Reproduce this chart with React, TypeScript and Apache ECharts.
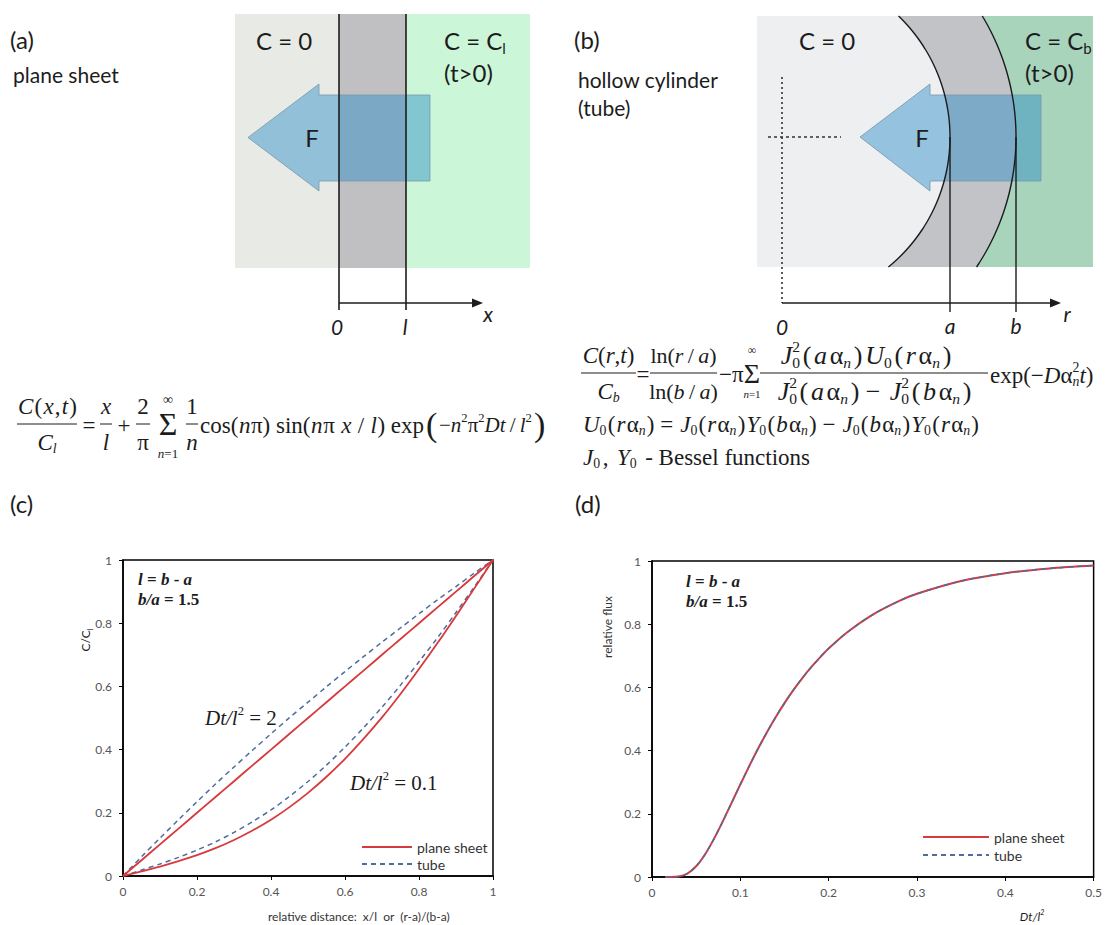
import React, { useEffect, useRef } from 'react';
import * as echarts from 'echarts';

// ---------------- data ----------------
const distance = [0, 0.05, 0.1, 0.15, 0.2, 0.25, 0.3, 0.35, 0.4, 0.45, 0.5, 0.55, 0.6, 0.65, 0.7, 0.75, 0.8, 0.85, 0.9, 0.95, 1];
const planeDt2 = [0, 0.05, 0.1, 0.15, 0.2, 0.25, 0.3, 0.35, 0.4, 0.45, 0.5, 0.55, 0.6, 0.65, 0.7, 0.75, 0.8, 0.85, 0.9, 0.95, 1];
const tubeDt2 = [0, 0.061, 0.12, 0.178, 0.235, 0.291, 0.345, 0.398, 0.45, 0.501, 0.55, 0.599, 0.647, 0.694, 0.74, 0.785, 0.83, 0.874, 0.916, 0.959, 1];
const planeDt01 = [0, 0.015, 0.03, 0.047, 0.066, 0.088, 0.114, 0.144, 0.178, 0.218, 0.263, 0.314, 0.371, 0.434, 0.502, 0.576, 0.655, 0.737, 0.823, 0.911, 1];
const tubeDt01 = [0, 0.019, 0.038, 0.059, 0.082, 0.108, 0.138, 0.172, 0.209, 0.252, 0.299, 0.351, 0.408, 0.469, 0.534, 0.604, 0.678, 0.754, 0.834, 0.916, 1];

const dimensionlessTime = [0.015, 0.02, 0.03, 0.04, 0.05, 0.06, 0.07, 0.08, 0.09, 0.1, 0.11, 0.12, 0.13, 0.14, 0.15, 0.16, 0.17, 0.18, 0.19, 0.2, 0.22, 0.25, 0.28, 0.3, 0.35, 0.4, 0.45, 0.5];
const fluxPlane = [0, 0.0001, 0.0016, 0.0109, 0.034, 0.0714, 0.1199, 0.1753, 0.2339, 0.2929, 0.3505, 0.4056, 0.4574, 0.5057, 0.5502, 0.5913, 0.6289, 0.6632, 0.6944, 0.7229, 0.7723, 0.8305, 0.8739, 0.8965, 0.9368, 0.9614, 0.9764, 0.9856];
const fluxTube = [0, 0.0001, 0.0016, 0.0109, 0.034, 0.0714, 0.1199, 0.1753, 0.2339, 0.2929, 0.3505, 0.4056, 0.4574, 0.5057, 0.5502, 0.5913, 0.6289, 0.6632, 0.6944, 0.7229, 0.7723, 0.8305, 0.8739, 0.8965, 0.9368, 0.9614, 0.9764, 0.9856];

const legendNames = ['plane sheet', 'tube'];

// ---------------- styles ----------------
const SERIF = '"Liberation Serif","Times New Roman",serif';
const SANS = 'Lato,"Open Sans",sans-serif';
const INK = '#1c1c1c';
const RED = '#d8393c';
const BLUE = '#4f6d9c';

type TOpts = {
  size?: number; family?: string; align?: string; valign?: string; italic?: boolean; bold?: boolean;
  color?: string; rotation?: number; rich?: any;
};
function txt(x: number, y: number, text: string, o: TOpts = {}) {
  const align = o.align || 'left';
  const valign = o.valign || 'middle';
  return {
    type: 'text', x, y, rotation: o.rotation || 0, z: 20,
    style: {
      text, fontSize: o.size || 22, fontFamily: o.family || SANS,
      fontStyle: o.italic ? 'italic' : 'normal', fontWeight: o.bold ? 'bold' : 'normal',
      fill: o.color || INK, align, verticalAlign: valign, textAlign: align, textVerticalAlign: valign,
      rich: o.rich,
    },
  };
}
function seg(x1: number, y1: number, x2: number, y2: number, w = 1.5, color = INK, dash?: number[]) {
  return { type: 'line', z: 15, shape: { x1, y1, x2, y2 }, style: { stroke: color, lineWidth: w, lineDash: dash } };
}
function poly(points: number[][], fill: string, stroke?: string, z = 5) {
  return { type: 'polygon', z, shape: { points }, style: { fill, stroke: stroke || null, lineWidth: 1 } };
}
function arcPts(cx: number, cy: number, R: number, y0: number, y1: number) {
  const pts: number[][] = [];
  for (let y = y0; y < y1; y += 2) pts.push([cx + Math.sqrt(R * R - (y - cy) * (y - cy)), y]);
  pts.push([cx + Math.sqrt(R * R - (y1 - cy) * (y1 - cy)), y1]);
  return pts;
}

// ---------- tiny math-typesetting helper (measured with canvas) ----------
let _ctx: any = null;
function measure(text: string, size: number, italic: boolean, bold: boolean, family: string) {
  if (!_ctx) _ctx = document.createElement('canvas').getContext('2d');
  _ctx.font = `${italic ? 'italic ' : ''}${bold ? 'bold ' : ''}${size}px ${family}`;
  return _ctx.measureText(text).width;
}
const KIND: Record<string, { s: number; dy: number; it?: boolean; bd?: boolean; adv?: boolean }> = {
  r: { s: 1, dy: 0 },
  i: { s: 1, dy: 0, it: true },
  b: { s: 1, dy: 0, bd: true },
  bi: { s: 1, dy: 0, it: true, bd: true },
  sup: { s: 0.6, dy: -0.34 },
  sub: { s: 0.6, dy: 0.3 },
  subi: { s: 0.6, dy: 0.3, it: true },
  z: { s: 0.6, dy: 0.3, adv: false },
  zi: { s: 0.6, dy: 0.3, it: true, adv: false },
};
function parse(s: string) {
  const re = /\{(\w+)\|([^}]*)\}/g;
  const out: { k: string; t: string }[] = [];
  let m;
  while ((m = re.exec(s))) out.push({ k: m[1], t: m[2] });
  return out;
}
type RowOpts = { x0?: number; x1?: number; center?: number; family?: string; soft?: number };
function row(g: any[], y: number, fs: number, s: string, o: RowOpts): number {
  const fam = o.family || SERIF;
  const toks = parse(s).map((tk) => {
    const K = KIND[tk.k] || KIND.r;
    const size = fs * K.s;
    const w = measure(tk.t, size, !!K.it, !!K.bd, fam);
    return { ...tk, K, size, w, adv: K.adv === false ? 0 : w };
  });
  const W = toks.reduce((a, t) => a + t.adv, 0);
  let x0 = o.x0 ?? 0;
  if (o.center != null) x0 = o.center - W / 2;
  // extra spacing is only inserted before base-level tokens (never before scripts)
  let gaps = 0;
  toks.forEach((t, i) => { if (i > 0 && t.K.s === 1) gaps++; });
  let extra = 0;
  if (o.x1 != null && o.x0 != null && gaps > 0) {
    const soft = o.soft ?? 1;
    const total = (o.x1 - o.x0 - W) * soft;
    extra = total / gaps;
    x0 = (o.x0 + o.x1) / 2 - (W + total) / 2;
  }
  let cur = x0;
  toks.forEach((t, i) => {
    if (i > 0 && t.K.s === 1) cur += extra;
    if (t.t.trim().length) {
      g.push(txt(cur, y + t.K.dy * fs, t.t, { size: t.size, family: fam, italic: !!t.K.it, bold: !!t.K.bd }));
    }
    cur += t.adv;
  });
  return cur;
}
function frac(g: any[], x1: number, x2: number, yBar: number, dy: number, fs: number, num: string, den: string, numSpan?: number[], denSpan?: number[], soft = 1) {
  const c = (x1 + x2) / 2;
  if (numSpan) row(g, yBar - dy, fs, num, { x0: numSpan[0], x1: numSpan[1], soft });
  else row(g, yBar - dy, fs, num, { center: c });
  g.push(seg(x1, yBar, x2, yBar, 1, INK));
  if (denSpan) row(g, yBar + dy, fs, den, { x0: denSpan[0], x1: denSpan[1], soft });
  else row(g, yBar + dy, fs, den, { center: c });
}

function sansRich(fs: number, italic = false) {
  const L = Math.round(fs * 1.3);
  const base = { fontFamily: SANS, fill: INK, fontStyle: italic ? 'italic' : 'normal' };
  return {
    n: { ...base, fontSize: fs, lineHeight: L },
    s: { ...base, fontSize: Math.round(fs * 0.62), lineHeight: Math.round(L * 0.55), verticalAlign: 'bottom' },
    p: { ...base, fontSize: Math.round(fs * 0.62), lineHeight: Math.round(L * 0.6), verticalAlign: 'top' },
  };
}

function buildGraphics() {
  const g: any[] = [];
  const ARROW_FILL = 'rgba(40,140,200,0.45)';
  const ARROW_STROKE = 'rgba(120,150,170,0.8)';

  // ---------- (a) plane sheet diagram ----------
  g.push(txt(10, 39, '(a)', { size: 24 }));
  g.push(txt(13, 74, 'plane sheet', { size: 21 }));
  g.push({ type: 'rect', z: 1, shape: { x: 235, y: 14, width: 104, height: 254 }, style: { fill: '#e8ebe5' } });
  g.push({ type: 'rect', z: 1, shape: { x: 339, y: 14, width: 67, height: 254 }, style: { fill: '#c0c0c3' } });
  g.push({ type: 'rect', z: 1, shape: { x: 406, y: 14, width: 124, height: 254 }, style: { fill: '#ccf6d8' } });
  g.push(poly([[248, 137.5], [319, 84], [319, 95], [430, 95], [430, 181], [319, 181], [319, 191]], ARROW_FILL, ARROW_STROKE, 8));
  g.push(seg(339, 14, 339, 310, 1.6));
  g.push(seg(406, 14, 406, 310, 1.6));
  g.push(seg(339, 303, 476, 303, 1.6));
  g.push(poly([[472, 298.5], [483, 303], [472, 307.5]], INK, undefined, 15));
  g.push(txt(256, 40, 'C = 0', { size: 24 }));
  g.push(txt(444, 40, '{n|C = C}{s|l}', { rich: sansRich(24) }));
  g.push(txt(444, 72, '(t>0)', { size: 24 }));
  g.push(txt(312, 137, 'F', { size: 24, align: 'center' }));
  g.push(txt(337, 326, '0', { size: 21, italic: true, align: 'center' }));
  g.push(txt(405, 326, 'l', { size: 21, italic: true, align: 'center' }));
  g.push(txt(488, 313, 'x', { size: 21, italic: true, align: 'center' }));

  // ---------- (b) hollow cylinder diagram ----------
  const cx = 782, cy = 137, ra = 168, rb = 234, top = 16, bot = 267, left = 757, right = 1093;
  g.push(txt(574, 39, '(b)', { size: 24 }));
  g.push(txt(578, 79, 'hollow cylinder', { size: 21 }));
  g.push(txt(578, 107, '(tube)', { size: 21 }));
  g.push({ type: 'rect', z: 1, shape: { x: left, y: top, width: right - left, height: bot - top }, style: { fill: '#a9d4bc' } });
  const outer = arcPts(cx, cy, rb, top, bot);
  const inner = arcPts(cx, cy, ra, top, bot);
  g.push(poly([[left, top], ...outer, [left, bot]], '#c1c3c7', undefined, 2));
  g.push(poly([[left, top], ...inner, [left, bot]], '#eeeff1', undefined, 3));
  g.push(poly([[860, 137], [930, 84], [930, 95], [1041, 95], [1041, 181], [930, 181], [930, 191]], ARROW_FILL, ARROW_STROKE, 8));
  g.push({ type: 'polyline', z: 15, shape: { points: outer }, style: { stroke: INK, lineWidth: 1.4, fill: null } });
  g.push({ type: 'polyline', z: 15, shape: { points: inner }, style: { stroke: INK, lineWidth: 1.4, fill: null } });
  g.push(seg(cx + ra, cy, cx + ra, 312, 1.4));
  g.push(seg(cx + rb, cy, cx + rb, 312, 1.4));
  g.push(seg(cx, 77, cx, 303, 1.6, '#333', [2, 3]));
  g.push(seg(768, cy, 841, cy, 1.6, '#333', [3, 3]));
  g.push(seg(cx, 303, 1054, 303, 1.6));
  g.push(poly([[1050, 298.5], [1061, 303], [1050, 307.5]], INK, undefined, 15));
  g.push(txt(799, 40, 'C = 0', { size: 24 }));
  g.push(txt(1025, 40, '{n|C = C}{s|b}', { rich: sansRich(24) }));
  g.push(txt(1025, 72, '(t>0)', { size: 24 }));
  g.push(txt(922, 137, 'F', { size: 24, align: 'center' }));
  g.push(txt(782, 326, '0', { size: 21, italic: true, align: 'center' }));
  g.push(txt(950, 325, 'a', { size: 21, italic: true, align: 'center' }));
  g.push(txt(1016, 325, 'b', { size: 21, italic: true, align: 'center' }));
  g.push(txt(1067, 313, 'r', { size: 21, italic: true, align: 'center' }));

  // ---------- formula (a) ----------
  const ya = 424;
  const FA = 23;
  frac(g, 17, 77, ya, 18, FA, '{i|C}{r|(}{i|x}{r|,}{i|t}{r|)}', '{i|C}{subi|l}', [18, 77]);
  row(g, ya + 1, FA, '{r|=}', { center: 89 });
  frac(g, 100, 112, ya, 18, FA, '{i|x}', '{i|l}');
  row(g, ya + 1, FA, '{r|+}', { center: 124 });
  frac(g, 136, 150, ya, 18, FA, '{r|2}', '{r|π}');
  g.push(txt(168, ya, 'Σ', { size: 32, family: SERIF, align: 'center' }));
  g.push(txt(168, 399, '∞', { size: 14, family: SERIF, align: 'center' }));
  row(g, 453, 13, '{i|n}{r|=1}', { center: 168 });
  frac(g, 186, 198, ya, 18, FA, '{r|1}', '{i|n}');
  let e = row(g, ya + 1, FA, '{r|cos(}{i|n}{r|π) sin(}{i|n}{r|π }{i|x}{r| / }{i|l}{r|) exp}', { x0: 200, x1: 424 });
  g.push(txt(e + 2, ya, '(', { size: 34, family: SERIF }));
  e = row(g, ya + 1, 21, '{r|−}{i|n}{sup|2}{r|π}{sup|2}{i|Dt}{r|\u2009/\u2009}{i|l}{sup|2}', { x0: e + 15 });
  g.push(txt(e + 2, ya, ')', { size: 34, family: SERIF }));

  // ---------- formula (b) ----------
  const yb = 373;
  const FB = 23;
  frac(g, 581, 636, yb, 18, FB, '{i|C}{r|(}{i|r}{r|,}{i|t}{r|)}', '{i|C}{subi|b}');
  row(g, yb + 1, FB, '{r|=}', { center: 643 });
  frac(g, 650, 717, yb, 18, 22, '{r|ln(}{i|r}{r|\u2009/\u2009}{i|a}{r|)}', '{r|ln(}{i|b}{r|\u2009/\u2009}{i|a}{r|)}');
  row(g, yb + 1, FB, '{r|−π}', { x0: 719, x1: 741 });
  g.push(txt(752, yb, 'Σ', { size: 28, family: SERIF, align: 'center' }));
  g.push(txt(752, 350, '∞', { size: 12, family: SERIF, align: 'center' }));
  row(g, 394, 11, '{i|n}{r|=1}', { center: 752 });
  frac(g, 760, 988, yb, 18, 26,
    '{i|J}{z|0}{sup|2}{r|(}{i|a}{r|α}{subi|n}{r|)}{i|U}{sub|0}{r|(}{i|r}{r|α}{subi|n}{r|)}',
    '{i|J}{z|0}{sup|2}{r|(}{i|a}{r|α}{subi|n}{r|) − }{i|J}{z|0}{sup|2}{r|(}{i|b}{r|α}{subi|n}{r|)}',
    [766, 966], [763, 986], 0.45);
  row(g, yb + 2, FB, '{r|exp(−}{i|D}{r|α}{zi|n}{sup|2}{i|t}{r|)}', { x0: 990 });
  row(g, 424, FB, '{i|U}{sub|0}{r|(}{i|r}{r|α}{subi|n}{r|) = }{i|J}{sub|0}{r|(}{i|r}{r|α}{subi|n}{r|)}{i|Y}{sub|0}{r|(}{i|b}{r|α}{subi|n}{r|) − }{i|J}{sub|0}{r|(}{i|b}{r|α}{subi|n}{r|)}{i|Y}{sub|0}{r|(}{i|r}{r|α}{subi|n}{r|)}', { x0: 583, x1: 979 });
  row(g, 457, FB, '{i|J}{sub|0}{r|, }{i|Y}{sub|0}{r| - Bessel functions}', { x0: 583, x1: 810 });

  // ---------- panel labels & chart annotations ----------
  g.push(txt(10, 503, '(c)', { size: 24 }));
  g.push(txt(575, 503, '(d)', { size: 24 }));

  row(g, 579, 17, '{bi|l}{b| = }{bi|b}{b| - }{bi|a}', { x0: 138 });
  row(g, 599, 17, '{bi|b/a}{b| = 1.5}', { x0: 138 });
  row(g, 581, 17, '{bi|l}{b| = }{bi|b}{b| - }{bi|a}', { x0: 686 });
  row(g, 601, 17, '{bi|b/a}{b| = 1.5}', { x0: 686 });
  row(g, 718, 21, '{i|Dt/l}{sup|2}{r| = 2}', { x0: 205 });
  row(g, 783, 21, '{i|Dt/l}{sup|2}{r| = 0.1}', { x0: 350 });

  g.push(txt(85, 640, '{n|C/C}{s|l}', { rotation: Math.PI / 2, align: 'center', rich: sansRich(12) }));
  g.push(txt(268, 916, 'relative distance:  x/l  or  (r-a)/(b-a)', { size: 12, color: '#333' }));
  g.push(txt(607, 627, 'relative flux', { size: 12, color: '#333', rotation: Math.PI / 2, align: 'center' }));
  g.push(txt(1032, 916, '{n|Dt/l}{p|2}', { align: 'center', rich: sansRich(12, true) }));
  return g;
}

function axisCommon(min: number, max: number, interval: number, gridIndex: number, isY: boolean) {
  return {
    type: 'value', gridIndex, min, max, interval,
    axisLine: { show: true, onZero: false, lineStyle: { color: '#000', width: 1.5 } },
    axisTick: { show: true, length: 4, inside: false, lineStyle: { color: '#000', width: 1 } },
    splitLine: { show: false },
    axisLabel: { color: '#555', fontSize: 12, fontFamily: SANS, margin: isY ? 11 : 9 },
  };
}

function lineSeries(name: string, xi: number, xs: number[], ys: number[], dashed: boolean, width: number, z: number) {
  return {
    type: 'line', name, xAxisIndex: xi, yAxisIndex: xi,
    data: xs.map((x, i) => [x, ys[i]]),
    symbol: 'none', showSymbol: false, smooth: 0.3, z,
    lineStyle: dashed ? { color: BLUE, width: 1.5, type: [5, 4] } : { color: RED, width: width, type: 'solid' },
    itemStyle: { color: dashed ? BLUE : RED },
  };
}

export default function App() {
  const ref = useRef<HTMLDivElement>(null);
  useEffect(() => {
    if (!ref.current) return;
    const chart = echarts.init(ref.current, undefined, { renderer: 'svg' });
    const legendBase = {
      orient: 'vertical', itemHeight: 14, selectedMode: false, data: legendNames,
      itemStyle: { opacity: 0, color: 'transparent', borderWidth: 0 },
      textStyle: { fontSize: 14, color: '#333', fontFamily: SANS },
    };
    const option: any = {
      animation: false,
      backgroundColor: '#ffffff',
      grid: [
        { left: 123, top: 560, width: 370, height: 316, show: true, borderColor: '#000', borderWidth: 1.5, backgroundColor: 'transparent' },
        { left: 652, top: 561, width: 442, height: 316, show: true, borderColor: '#000', borderWidth: 1.5, backgroundColor: 'transparent' },
      ],
      xAxis: [axisCommon(0, 1, 0.2, 0, false), axisCommon(0, 0.5, 0.1, 1, false)],
      yAxis: [axisCommon(0, 1, 0.2, 0, true), axisCommon(0, 1, 0.2, 1, true)],
      legend: [
        { ...legendBase, left: 356, top: 835, itemWidth: 50, itemGap: 3 },
        { ...legendBase, left: 917, top: 825, itemWidth: 66, itemGap: 4 },
      ],
      series: [
        lineSeries('plane sheet', 0, distance, planeDt2, false, 1.8, 3),
        lineSeries('tube', 0, distance, tubeDt2, true, 1.5, 2),
        lineSeries('plane sheet', 0, distance, planeDt01, false, 1.8, 3),
        lineSeries('tube', 0, distance, tubeDt01, true, 1.5, 2),
        lineSeries('plane sheet', 1, dimensionlessTime, fluxPlane, false, 2, 2),
        lineSeries('tube', 1, dimensionlessTime, fluxTube, true, 1.5, 3),
      ],
      graphic: buildGraphics(),
    };
    chart.setOption(option);
    return () => chart.dispose();
  }, []);
  return <div ref={ref} style={{ position: 'fixed', left: 0, top: 0, width: 1105, height: 925, background: '#fff' }} />;
}
